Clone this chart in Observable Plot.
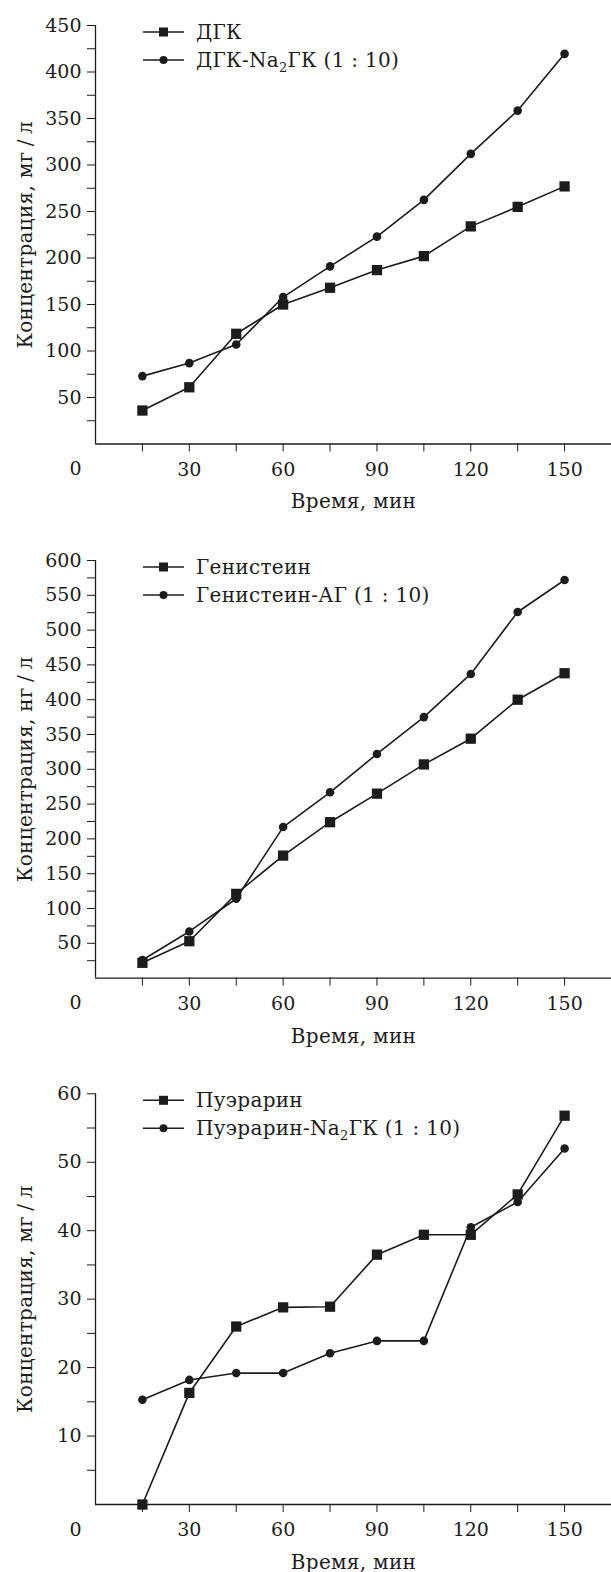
<!DOCTYPE html>
<html>
<head>
<meta charset="utf-8">
<script src="https://cdn.jsdelivr.net/npm/d3@7"></script>
<script src="https://cdn.jsdelivr.net/npm/@observablehq/plot@0.6"></script>
<style>
  html, body { margin: 0; padding: 0; background: #fff; }
  #charts svg { display: block; }
  #charts svg, #charts svg text, #charts svg tspan { font-family: "DejaVu Serif", serif !important; }
  #charts svg .ttl { letter-spacing: 0.3px; }
</style>
</head>
<body>
<div id="charts"></div>
<script>
// ---- data ----
const time = [15, 30, 45, 60, 75, 90, 105, 120, 135, 150];

const dgk      = [36, 61, 118.5, 150, 168, 187, 202, 234, 255, 277];
const dgkNa    = [73, 87, 107, 158, 191, 223, 262.5, 312, 358.5, 419.5];

const gen      = [22, 53, 121, 176, 224, 265, 307, 344, 400, 438];
const genAG    = [26, 67, 114, 217, 267, 322, 375, 437, 526, 572];

const pue      = [0, 16.3, 26.0, 28.8, 28.9, 36.5, 39.4, 39.4, 45.3, 56.8];
const pueNa    = [15.3, 18.2, 19.2, 19.2, 22.1, 23.9, 23.9, 40.5, 44.2, 52.0];

const xTicks = [15, 30, 45, 60, 75, 90, 105, 120, 135, 150];
const xLabelStep = 30;
const xTitle = "Время, мин";

const charts = [
  {
    yTitle: "Концентрация, мг\u2005/\u2005л",
    ymax: 450, yStep: 25, yLabelStep: 50,
    series: [
      {name: ["ДГК"], values: dgk, symbol: "square"},
      {name: ["ДГК-Na", "2", "ГК (1 : 10)"], values: dgkNa, symbol: "circle"}
    ],
    height: 520, marginTop: 25, marginBottom: 76.5
  },
  {
    yTitle: "Концентрация, нг\u2005/\u2005л",
    ymax: 600, yStep: 25, yLabelStep: 50,
    series: [
      {name: ["Генистеин"], values: gen, symbol: "square"},
      {name: ["Генистеин-АГ (1 : 10)"], values: genAG, symbol: "circle"}
    ],
    height: 535, marginTop: 40, marginBottom: 77.4
  },
  {
    yTitle: "Концентрация, мг\u2005/\u2005л",
    ymax: 60, yStep: 5, yLabelStep: 10,
    series: [
      {name: ["Пуэрарин"], values: pue, symbol: "square"},
      {name: ["Пуэрарин-Na", "2", "ГК (1 : 10)"], values: pueNa, symbol: "circle"}
    ],
    height: 517, marginTop: 38.3, marginBottom: 68
  }
];

const INK = "#1c1c1c";
const FONT = "DejaVu Serif";
const TICK_FS = 19;
const TITLE_FS = 20;

function legendMark(series) {
  return (index, scales, values, dimensions) => {
    const g = d3.create("svg:g")
      .attr("class", "ttl")
      .attr("font-family", FONT)
      .attr("font-size", TITLE_FS)
      .attr("text-anchor", "start")
      .attr("fill", INK);
    const x0 = dimensions.marginLeft + 48;
    const x1 = dimensions.marginLeft + 89;
    const xm = (x0 + x1) / 2;
    const xt = dimensions.marginLeft + 101;
    series.forEach((s, i) => {
      const y = dimensions.marginTop + 7 + i * 28;
      g.append("line").attr("x1", x0).attr("x2", x1).attr("y1", y).attr("y2", y)
        .attr("stroke", INK).attr("stroke-width", 1.6);
      if (s.symbol === "square") {
        g.append("rect").attr("x", xm - 4.5).attr("y", y - 4.5).attr("width", 9).attr("height", 9).attr("fill", INK);
      } else {
        g.append("circle").attr("cx", xm).attr("cy", y).attr("r", 4).attr("fill", INK);
      }
      const t = g.append("text").attr("x", xt).attr("y", y).attr("dy", "0.35em").attr("text-anchor", "start");
      s.name.forEach((part, k) => {
        if (s.name.length === 3 && k === 1) {
          t.append("tspan").attr("font-size", 13).attr("dy", 5).text(part);
        } else if (s.name.length === 3 && k === 2) {
          t.append("tspan").attr("dy", -5).text(part);
        } else {
          t.append("tspan").text(part);
        }
      });
    });
    return g.node();
  };
}

function makeChart(c) {
  const yTicks = d3.range(c.yStep, c.ymax + c.yStep / 2, c.yStep);
  const rows = [];
  c.series.forEach((s, si) => time.forEach((t, i) => rows.push({t, v: s.values[i], s: si, symbol: s.symbol})));
  return Plot.plot({
    width: 611,
    height: c.height,
    marginLeft: 95,
    marginRight: 0,
    marginTop: c.marginTop,
    marginBottom: c.marginBottom,
    style: {fontFamily: FONT, fontSize: TICK_FS + "px", color: INK, background: "#fff", overflow: "visible"},
    x: {domain: [0, 165]},
    y: {domain: [0, c.ymax]},
    marks: [
      Plot.ruleX([0], {stroke: INK, strokeWidth: 1.3}),
      Plot.ruleY([0], {stroke: INK, strokeWidth: 1.3}),
      Plot.axisY({
        ticks: yTicks, tickSize: 8, tickPadding: 6, label: null, stroke: INK, fill: INK,
        tickFormat: d => (Math.abs(d % c.yLabelStep) < 1e-9 ? String(d) : "")
      }),
      Plot.axisX({
        ticks: xTicks, tickSize: 8, tickPadding: 10, label: null, stroke: INK, fill: INK,
        tickFormat: d => (d % xLabelStep === 0 ? String(d) : "")
      }),
      Plot.text(["0"], {text: d => d, frameAnchor: "bottom-left", dx: -20, dy: 25,
        textAnchor: "middle", lineAnchor: "middle", fill: INK}),
      Plot.text([xTitle], {text: d => d, frameAnchor: "bottom", dy: 58,
        textAnchor: "middle", lineAnchor: "middle", fill: INK, fontSize: TITLE_FS, className: "ttl"}),
      Plot.text([c.yTitle], {text: d => d, frameAnchor: "left", dx: -70, rotate: -90,
        textAnchor: "middle", lineAnchor: "middle", fill: INK, fontSize: TITLE_FS, className: "ttl"}),
      Plot.line(rows, {x: "t", y: "v", z: "s", stroke: INK, strokeWidth: 1.6}),
      Plot.dot(rows.filter(d => d.symbol === "square"), {x: "t", y: "v", symbol: "square", r: 5.8, fill: INK}),
      Plot.dot(rows.filter(d => d.symbol === "circle"), {x: "t", y: "v", symbol: "circle", r: 4.3, fill: INK}),
      legendMark(c.series)
    ]
  });
}

const root = document.getElementById("charts");
charts.forEach(c => root.appendChild(makeChart(c)));
</script>
</body>
</html>
